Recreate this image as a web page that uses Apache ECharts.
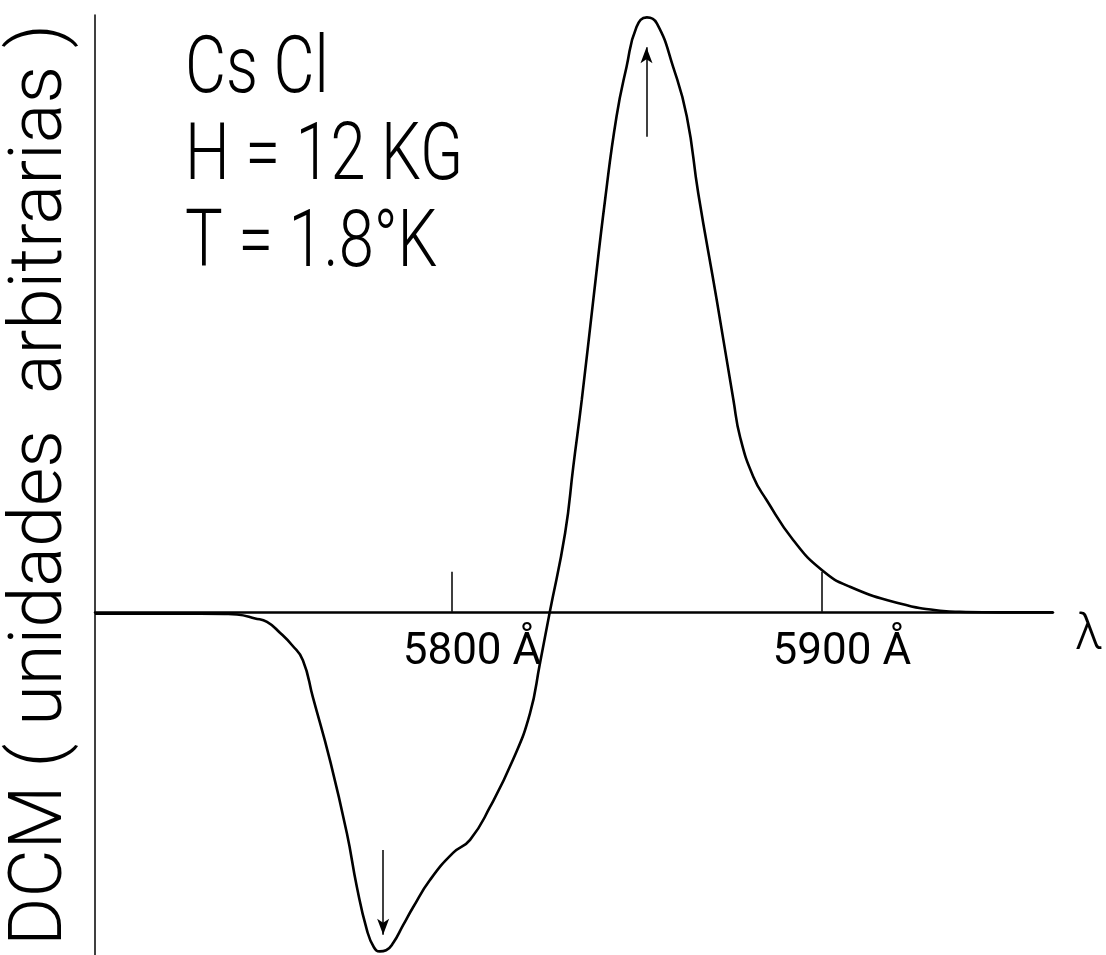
<!DOCTYPE html>
<html>
<head>
<meta charset="utf-8">
<title>DCM CsCl</title>
<script src="https://cdn.jsdelivr.net/npm/echarts@6/dist/echarts.min.js"></script>
<style>
  html, body { margin: 0; padding: 0; background: #fff; }
  #chart { width: 1106px; height: 955px; }
</style>
</head>
<body>
<div id="chart"></div>
<script>
/* --- curve (wavelength in Å, DCM in arbitrary units) --- */
const lambda = [5703.5, 5718.4, 5731.9, 5738.6, 5741.9, 5746.8, 5750.0, 5753.5, 5756.8, 5759.7,
  5762.4, 5767.0, 5771.6, 5774.3, 5777.0, 5778.9, 5780.5, 5782.2, 5784.1, 5786.8,
  5789.5, 5794.1, 5800.3, 5804.9, 5810.3, 5816.5, 5821.1, 5823.8, 5826.4,
  5830.6, 5832.8, 5835.1, 5838.2, 5841.4, 5844.5, 5847.2, 5849.9, 5852.7, 5855.4,
  5859.8, 5863.5, 5866.6, 5871.6, 5876.1, 5877.9, 5881.5, 5885.1, 5892.3, 5900.0,
  5907.6, 5921.1, 5932.8, 5937.3, 5948.2, 5962.5];
const dcm = [-0.3, -0.3, -0.3, -0.35, -0.45, -1.1, -1.7, -3.5, -5.6, -8.1,
  -14.3, -24.8, -37.1, -46.1, -53.3, -56.2, -56.9, -56.7, -55.5, -52.5,
  -49.5, -44.9, -40.4, -38.2, -32.7, -24.8, -17.0, -8.6, -0.2,
  13.2, 24.3, 35.5, 52.2, 69.0, 83.0, 91.3, 98.0, 99.6, 98.6,
  91.3, 83.0, 70.1, 52.2, 35.5, 29.3, 22.6, 18.7, 12.0, 7.0,
  4.2, 1.4, 0.15, 0, -0.1, -0.1];

const tickValues = [5800, 5900];
const infoLines = ['Cs Cl', 'H = 12 KG', 'T = 1.8°K'];
const yTitle = 'DCM ( unidades  arbitrarias )';

// arrows marking the extrema: [wavelength, from, to] (head at "to")
const arrowDown = [5781.4, -39.9, -54.1];
const arrowUp = [5852.6, 79.6, 94.6];

const FONT = 'Roboto, "DejaVu Sans", sans-serif';
const chart = echarts.init(document.getElementById('chart'));

function arrow(a) {
  return [
    { coord: [a[0], a[1]], symbol: 'none' },
    { coord: [a[0], a[2]], symbol: 'arrow' }
  ];
}

// the lettering in the original is narrow, so squeeze it a little
const infoTexts = infoLines.map((t, i) => ({
  type: 'text',
  x: 185,
  y: 32 + i * 87,
  scaleX: 0.79,
  style: {
    text: t,
    fill: '#000',
    font: '300 80px ' + FONT,
    verticalAlign: 'top'
  }
}));

const option = {
  backgroundColor: '#fff',
  animation: false,
  graphic: infoTexts,
  grid: { left: 95, right: 53, top: 15, bottom: 0, containLabel: false, outerBoundsMode: 'none' },
  xAxis: {
    type: 'value',
    min: 5703.5,
    max: 5962.5,
    name: 'λ',
    nameLocation: 'end',
    nameGap: 22,
    nameTextStyle: {
      fontFamily: FONT,
      fontWeight: 300,
      fontSize: 50,
      color: '#000',
      verticalAlign: 'top',
      padding: [0, 0, 0, 0]
    },
    axisLine: { onZero: true, lineStyle: { color: '#000', width: 2.5 } },
    axisTick: {
      show: true,
      inside: true,
      length: 40,
      customValues: tickValues,
      lineStyle: { color: '#000', width: 1.5 }
    },
    axisLabel: { show: false },
    splitLine: { show: false }
  },
  yAxis: {
    type: 'value',
    min: -57.5,
    max: 100,
    name: yTitle,
    nameLocation: 'middle',
    nameRotate: 90,
    nameGap: 16,
    nameTextStyle: {
      fontFamily: FONT,
      fontWeight: 300,
      fontSize: 74,
      color: '#000'
    },
    axisLine: { show: true, onZero: false, lineStyle: { color: '#000', width: 1.5 } },
    axisTick: { show: false },
    axisLabel: { show: false },
    splitLine: { show: false }
  },
  series: [{
    type: 'line',
    data: lambda.map((x, i) => [x, dcm[i]]),
    smooth: 0.5,
    showSymbol: false,
    lineStyle: { color: '#000', width: 2.6 },
    markLine: {
      silent: true,
      symbolSize: [9, 16],
      label: { show: false },
      lineStyle: { color: '#000', width: 1.5, type: 'solid' },
      data: [arrow(arrowDown), arrow(arrowUp)]
    },
    // wavelength labels hang just under the zero line
    markPoint: {
      silent: true,
      symbol: 'circle',
      symbolSize: 0,
      label: {
        show: true,
        position: 'bottom',
        distance: 19,
        formatter: p => '{p| }{n|' + p.data.coord[0] + '}{a| Å}',
        rich: {
          p: { width: 40 },
          n: { fontFamily: FONT, fontSize: 44, color: '#000' },
          a: { fontFamily: FONT, fontSize: 44, color: '#000' }
        }
      },
      data: tickValues.map(v => ({ coord: [v, 0] }))
    }
  }]
};

chart.setOption(option);
</script>
</body>
</html>
